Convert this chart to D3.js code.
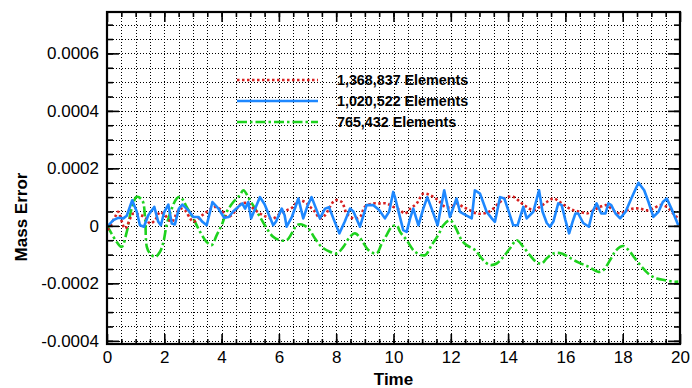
<!DOCTYPE html>
<html><head><meta charset="utf-8">
<script src="https://cdn.jsdelivr.net/npm/d3@7"></script>
<style>body{margin:0;background:#fff} text{font-family:"Liberation Sans",Arial,sans-serif;fill:#000}</style>
</head><body><svg id="c" width="692" height="388"></svg>
<script>
// values are stored in units of 1e-5
const UNIT = 1e-5;
const seriesNames = ["1,368,837 Elements", "1,020,522 Elements", "765,432 Elements"];

const redT = [0.03,0.28,0.39,0.63,0.92,1.15,1.33,1.5,1.68,1.85,2.02,2.26,2.37,2.55,2.72,2.9,3.01,3.25,3.48,3.77,4.0,4.18,4.35,4.53,4.7,4.93,5.11,5.34,5.57,5.8,6.04,6.27,6.5,6.68,6.91,7.09,7.26,7.43,7.61,7.78,7.96,8.19,8.37,8.6,8.83,9.0,9.29,9.53,9.76,9.99,10.23,10.4,10.6,10.81,11.04,11.27,11.56,11.8,12.03,12.2,12.43,12.67,12.9,13.13,13.37,13.72,13.95,14.18,14.42,14.65,14.88,15.11,15.35,15.58,15.81,16.05,16.28,16.52,16.74,16.97,17.21,17.44,17.67,17.91,18.14,18.37,18.6,18.84,19.07,19.3,19.54,19.71,19.88,20];
const redV = [-1.5,3.1,4.9,-0.9,4.3,3.7,3.1,0.8,2.0,4.8,3.7,1.4,3.1,6.0,5.4,2.6,1.4,3.1,4.9,6.6,5.4,3.1,3.7,6.0,7.8,7.8,6.0,4.3,3.1,2.6,4.3,5.4,6.6,8.9,8.3,6.6,4.9,2.6,3.7,6.6,8.9,8.3,4.3,2.6,3.1,6.6,7.8,7.8,7.8,6.6,5.4,4.3,6.1,7.8,11.2,10.7,8.9,6.6,6.6,7.8,6.6,5.4,4.3,4.3,5.1,8.3,9.9,10.1,8.3,6.6,5.4,6.6,8.3,9.5,8.3,6.6,5.4,4.9,4.3,5.4,6.6,7.2,5.4,4.3,5.4,6.0,6.0,5.4,6.0,7.2,6.6,4.9,3.1,2.0];

const blueT = [0.05,0.22,0.39,0.57,0.69,0.88,1.04,1.15,1.29,1.44,1.65,1.79,1.88,2.0,2.14,2.26,2.37,2.51,2.63,2.84,3.01,3.19,3.33,3.48,3.68,3.89,4.09,4.25,4.41,4.58,4.72,4.82,4.93,5.03,5.34,5.5,5.8,5.9,6.1,6.2,6.27,6.45,6.68,6.85,7.0,7.14,7.43,7.61,7.75,7.9,8.11,8.3,8.48,8.6,8.83,9.06,9.3,9.5,9.7,9.85,9.99,10.05,10.34,10.46,10.58,10.69,10.87,11.04,11.18,11.33,11.54,11.77,11.97,12.2,12.32,12.73,12.84,13.02,13.25,13.43,13.54,13.72,13.87,14.18,14.33,14.53,14.65,14.88,15.08,15.2,15.35,15.46,15.58,15.75,15.87,16.0,16.13,16.25,16.35,16.45,16.62,16.82,16.95,17.09,17.25,17.4,17.5,17.6,17.75,17.91,18.1,18.3,18.55,18.75,18.9,19.07,19.25,19.4,19.54,19.7,19.94];
const blueV = [0.2,2.0,2.8,2.6,3.5,8.9,4.9,0.2,-0.3,3.7,6.6,1.4,0.2,4.9,7.4,0.8,0.5,6.0,7.4,5.4,3.1,3.1,1.4,0.2,8.3,6.0,2.8,3.1,5.1,6.6,7.8,6.0,8.3,2.6,10.0,7.5,0.2,1.5,6.0,3.7,-0.3,3.0,9.5,2.6,7.0,10.0,2.6,6.0,6.5,2.6,-2.6,1.5,6.0,5.0,-0.3,7.2,7.2,5.5,2.6,5.0,11.8,10.0,-1.5,-2.1,2.6,6.0,0.2,6.0,10.0,6.0,0.2,12.4,3.1,9.5,4.9,2.6,12.4,11.2,4.9,2.6,1.4,10.0,9.5,0.2,0.2,6.6,2.6,4.9,12.4,5.0,1.0,-0.3,1.5,7.8,7.2,2.0,-2.6,1.4,4.3,4.3,1.0,-0.3,5.0,7.8,4.3,4.3,7.8,7.2,4.3,2.6,4.9,9.5,15.0,12.4,8.3,3.1,4.9,8.3,9.5,6.0,0.2];

const greenT = [0,0.34,0.51,0.69,0.86,1.04,1.23,1.33,1.39,1.5,1.68,1.85,1.97,2.08,2.26,2.43,2.55,2.66,2.78,3.01,3.25,3.48,3.65,3.83,4.0,4.18,4.41,4.64,4.76,4.99,5.17,5.34,5.51,5.8,6.04,6.27,6.45,6.62,6.8,7.03,7.26,7.49,7.78,8.02,8.25,8.48,8.66,8.89,9.12,9.41,9.59,9.76,9.94,10.11,10.23,10.46,10.75,11.1,11.33,11.56,11.74,11.97,12.15,12.38,12.55,12.84,13.13,13.37,13.6,13.83,14.07,14.3,14.53,14.76,15.0,15.17,15.35,15.58,15.87,16.1,16.45,16.8,17.15,17.32,17.56,17.73,17.91,18.02,18.2,18.43,18.66,18.95,19.19,19.48,19.77,19.94];
const greenV = [0.2,-5.6,-7.3,-2.1,6.0,10.1,8.9,2.6,-7.3,-9.6,-10.8,-9.0,-5.6,0.2,6.0,9.5,10.1,8.9,6.6,2.6,-2.1,-5.6,-6.7,-3.2,0.2,4.9,8.3,10.7,12.4,8.9,6.0,3.1,0.2,-3.8,-5.0,-5.0,-2.6,0.2,0.5,-0.9,-4.4,-7.3,-9.0,-9.6,-7.3,-3.8,-2.6,-5.0,-8.4,-9.6,-6.1,-3.2,-0.3,0.2,-2.1,-5.0,-9.0,-10.2,-6.7,-3.2,0.2,2.0,-0.3,-5.0,-6.7,-8.4,-11.9,-13.6,-13.1,-10.8,-7.8,-5.0,-7.3,-10.2,-12.7,-13.1,-11.3,-9.6,-9.6,-10.8,-12.7,-14.2,-16.0,-15.4,-11.9,-9.0,-7.3,-7.0,-8.4,-11.3,-14.2,-17.1,-18.3,-18.9,-19.4,-19.4];

const xTicks = [0,2,4,6,8,10,12,14,16,18,20];
const yTicks = [-0.0004,-0.0002,0,0.0002,0.0004,0.0006];
const yTickLabels = ["-0.0004","-0.0002","0","0.0002","0.0004","0.0006"];

const L = 107, R = 680, T = 12, B = 344;
const svg = d3.select("#c");
const x = d3.scaleLinear().domain([0, 20]).range([L, R]);
const y = d3.scaleLinear().domain([-0.000411, 0.000744]).range([B, T]);

const xMinor = d3.range(1, 40).map(k => k * 0.5);
const yMinor = d3.range(-8, 15).map(k => k * 0.00005);

// grid
const grid = svg.append("g").attr("shape-rendering", "crispEdges");
grid.selectAll("line.v").data(xMinor).join("line")
  .attr("x1", d => Math.round(x(d)) + 0.5).attr("x2", d => Math.round(x(d)) + 0.5).attr("y1", T).attr("y2", B)
  .attr("stroke", "#000").attr("stroke-width", 1).attr("stroke-dasharray", "1,2");
grid.selectAll("line.h").data(yMinor).join("line")
  .attr("x1", L).attr("x2", R).attr("y1", d => Math.round(y(d)) + 0.5).attr("y2", d => Math.round(y(d)) + 0.5)
  .attr("stroke", "#000").attr("stroke-width", 1).attr("stroke-dasharray", "1,2");

svg.append("clipPath").attr("id", "clip").append("rect")
  .attr("x", L).attr("y", T).attr("width", R - L).attr("height", B - T);

const series = [
  {name: seriesNames[0], t: redT, v: redV, color: "#d82020", dash: "2.5,2.5", curve: d3.curveCatmullRom},
  {name: seriesNames[1], t: blueT, v: blueV, color: "#1e88ff", dash: null, curve: d3.curveLinear},
  {name: seriesNames[2], t: greenT, v: greenV, color: "#1ed21e", dash: "10,3,2.5,3", curve: d3.curveCatmullRom}
];

const lines = svg.append("g").attr("clip-path", "url(#clip)");
[series[2], series[0], series[1]].forEach(s => {
  const pts = s.t.map((t, i) => [t, s.v[i] * UNIT]);
  const gen = d3.line().x(d => x(d[0])).y(d => y(d[1])).curve(s.curve);
  lines.append("path").attr("d", gen(pts)).attr("fill", "none")
    .attr("stroke", s.color).attr("stroke-width", 2.6)
    .attr("stroke-dasharray", s.dash).attr("stroke-linejoin", "round");
});

// legend
const leg = svg.append("g");
series.forEach((s, i) => {
  const yy = 80 + i * 21;
  leg.append("line").attr("x1", 237).attr("x2", 318).attr("y1", yy).attr("y2", yy)
    .attr("stroke", s.color).attr("stroke-width", 2.6).attr("stroke-dasharray", s.dash);
  leg.append("text").attr("x", 337).attr("y", yy + 5).attr("font-size", 14.3)
    .attr("font-weight", "bold").text(s.name);
});

// axes
function style(g) { g.select(".domain").remove(); g.selectAll("line").attr("stroke", "#000").attr("stroke-width", 1.6); g.selectAll("text").attr("font-size", 17).attr("font-family", '"Liberation Sans",Arial,sans-serif'); }
svg.append("g").attr("transform", `translate(0,${B})`).call(d3.axisBottom(x).tickValues(xTicks).tickSize(-10).tickPadding(7)).call(style);
svg.append("g").attr("transform", `translate(0,${B})`).call(d3.axisBottom(x).tickValues(xMinor).tickSize(-5).tickFormat("")).call(style);
svg.append("g").attr("transform", `translate(0,${T})`).call(d3.axisTop(x).tickValues(xTicks).tickSize(-10).tickFormat("")).call(style);
svg.append("g").attr("transform", `translate(0,${T})`).call(d3.axisTop(x).tickValues(xMinor).tickSize(-5).tickFormat("")).call(style);
svg.append("g").attr("transform", `translate(${L},0)`).call(d3.axisLeft(y).tickValues(yTicks).tickSize(-12).tickPadding(8).tickFormat((d, i) => yTickLabels[i])).call(style);
svg.append("g").attr("transform", `translate(${L},0)`).call(d3.axisLeft(y).tickValues(yMinor).tickSize(-6).tickFormat("")).call(style);
svg.append("g").attr("transform", `translate(${R},0)`).call(d3.axisRight(y).tickValues(yTicks).tickSize(-12).tickFormat("")).call(style);
svg.append("g").attr("transform", `translate(${R},0)`).call(d3.axisRight(y).tickValues(yMinor).tickSize(-6).tickFormat("")).call(style);

// frame
svg.append("rect").attr("x", L).attr("y", T).attr("width", R - L).attr("height", B - T)
  .attr("fill", "none").attr("stroke", "#000").attr("stroke-width", 2.2);

// axis titles
svg.append("text").attr("x", (L + R) / 2).attr("y", 385).attr("text-anchor", "middle")
  .attr("font-size", 17).attr("font-weight", "bold").text("Time");
svg.append("text").attr("transform", "translate(27,217) rotate(-90)").attr("text-anchor", "middle")
  .attr("font-size", 17).attr("font-weight", "bold").text("Mass Error");
</script></body></html>
